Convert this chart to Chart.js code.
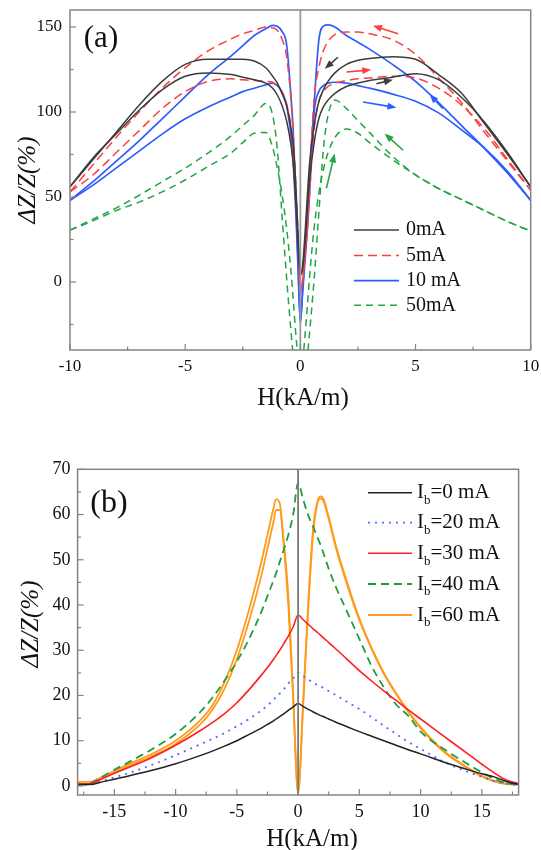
<!DOCTYPE html>
<html>
<head>
<meta charset="utf-8">
<script src="https://cdn.jsdelivr.net/npm/chart.js@4.4.1/dist/chart.umd.min.js"></script>
<style>
  html, body { margin: 0; padding: 0; background: #fff; }
  #panelA { position: absolute; left: 0; top: 0; }
  #panelB { position: absolute; left: 0; top: 420px; }
</style>
</head>
<body>
<canvas id="panelA" width="541" height="420"></canvas>
<canvas id="panelB" width="541" height="430"></canvas>
<script>
// ---- panel (a): GMI loops at several bias currents ----
const hA = [-10, -9, -8, -7, -6, -5, -4, -3, -2.5, -2, -1.5, -1.2, -1, -0.8, -0.6, -0.4, -0.3, -0.2, -0.1, 0,
    0.1, 0.2, 0.3, 0.4, 0.6, 0.8, 1, 1.2, 1.5, 2, 2.5, 3, 4, 5, 6, 7, 8, 9, 10];

// two branches per loop (sweep one way / the other way)
const z0mA1 = [56, 72, 88, 104, 118, 128, 131, 131, 131, 130, 126, 121, 117, 111, 104, 90, 80, 58, 28, 4,
    8, 22, 42, 60, 82, 96, 103, 107, 111, 115, 117, 118.5, 120.5, 122.5, 119, 108.5, 94, 76, 56];
const z0mA2 = [56, 73, 87, 101, 113, 121, 123, 122, 120.5, 119, 117, 114, 110, 104, 95, 80, 68, 48, 22, 4,
    10, 28, 50, 70, 92, 106, 113, 118, 123, 128, 130.5, 131.5, 132.5, 131, 122, 111, 93, 75, 56];
const z5mA1 = [53, 69, 85, 100, 114, 126, 136, 143, 146, 148, 150, 149.5, 148, 143, 133, 106, 84, 58, 28, -6,
    0, 14, 30, 52, 90, 106, 112, 115, 117, 118.5, 119.5, 120, 121, 120, 114, 104, 90, 72, 54];
const z5mA2 = [53, 63, 76, 89, 102, 112, 118, 119.5, 119, 118.5, 118, 117.5, 115, 112, 105, 90, 72, 50, 24, -6,
    2, 16, 32, 62, 108, 126, 136, 141.5, 145.5, 147, 147, 146, 142.5, 134, 120, 105.5, 88, 71, 54];
const z10mA1 = [48, 59, 71, 83, 96, 109, 122, 133, 139, 145, 149, 151, 150.5, 147.5, 140, 108, 86, 50, 12, -24,
    -6, 12, 30, 52, 100, 112, 115.5, 117, 117.5, 117, 115.5, 114, 110.5, 106.3, 99.5, 89.5, 78.8, 65, 48];
const z10mA2 = [48, 57, 67, 77, 87, 96, 103, 109, 112, 114, 116, 117, 115.5, 112, 104, 85, 68, 42, 8, -24,
    -4, 16, 36, 60, 105, 142, 150.5, 151.2, 150, 145, 141, 137, 128, 118, 105.5, 92, 78.5, 64, 48];
const z50mA1 = [30.5, 37, 43.5, 51, 59, 67, 76, 86, 92, 98, 105, 98, 78, 40, 3, -30, -45, -58, -65, -70,
    -48, -32, -15, 3, 32, 52, 66, 76, 85, 90, 87.5, 82, 72, 63, 55, 48.5, 42, 35.5, 30];
const z50mA2 = [30.5, 36, 42, 47, 53, 60, 68, 76, 82, 87.5, 88, 79, 67, 52, 32, 5, -12, -30, -45, -60,
    -65, -58, -45, -30, 2, 40, 78, 98, 107, 102, 95, 88, 74, 63, 55, 48.5, 42, 35.5, 30];

const labelsA = ["0mA", "5mA", "10 mA", "50mA"];
const loopsA = [[z0mA1, z0mA2], [z5mA1, z5mA2], [z10mA1, z10mA2], [z50mA1, z50mA2]];

// sweep-direction arrows, [H from, dZ from, H to, dZ to, series]
const arrowsA = [
    [4.24, 146, 3.15, 150.8, 1],
    [1.63, 132.2, 1.06, 125.4, 0],
    [2.0, 123.5, 3.08, 124.8, 1],
    [3.3, 116.6, 4.02, 119, 0],
    [2.72, 105.9, 4.17, 102.6, 2],
    [6.19, 102, 5.61, 110.4, 2],
    [4.46, 77.5, 3.66, 87.3, 3],
    [1.13, 55.1, 1.49, 75.6, 3],
];

// ---- panel (b): bias field Ib ----
const hB = [-18, -17, -16, -15, -14, -12, -10, -8, -7, -6, -5, -4, -3, -2.5, -2, -1.8, -1.5, -1.2, -0.8, -0.4, 0,
    0.4, 0.8, 1.2, 1.5, 1.8, 2, 2.5, 3, 4, 5, 6, 7, 8, 9, 10, 12, 14, 15, 16, 17, 18];

const ib0 = [0.3, 0.3, 0.9, 1.5, 2.1, 3.4, 4.9, 6.7, 7.7, 8.8, 10, 11.4, 12.8, 13.6, 14.4, 14.8, 15.3, 15.9, 16.7, 17.5, 18.2,
    17.6, 17, 16.4, 16, 15.6, 15.4, 14.8, 14.2, 13.1, 12, 11, 10, 9, 8, 7.1, 5.2, 3.5, 2.7, 2, 1, 0.3];
const ib20 = [0.2, 0.3, 1.1, 1.9, 2.7, 4.6, 6.8, 9.2, 10.4, 11.7, 13.2, 14.8, 16.7, 17.8, 19.1, 19.6, 20.4, 21.3, 22.6, 23.8, 25,
    24.3, 23.6, 22.9, 22.4, 22, 21.8, 21, 20.2, 18.6, 17, 15.2, 13.3, 11.5, 9.7, 8.2, 5.2, 3, 2, 1.1, 0.5, 0.2];
const ib30 = [0.4, 0.5, 1.6, 2.8, 3.9, 6.2, 9.0, 12.2, 14, 16, 18.4, 21.3, 24.5, 26.2, 28, 28.8, 30, 31.3, 33.1, 35.2, 37.8,
    36.8, 35.8, 34.8, 34.1, 33.4, 32.9, 31.7, 30.5, 28, 25.5, 23.2, 21, 18.9, 16.8, 14.8, 10.8, 6.8, 4.8, 2.9, 1.3, 0.5];
const ib40 = [0.3, 0.6, 2.0, 3.6, 5.0, 8.0, 11.5, 16.3, 19.5, 23.3, 27.5, 32.5, 38.5, 42, 45.5, 47, 49.5, 52, 55.5, 60, 67,
    63.5, 60, 57.5, 55.5, 53.5, 52, 48, 44.5, 38.5, 32.5, 26.5, 21.8, 18, 15.5, 12, 8, 4.6, 3, 1.6, 0.6, 0.3];
const ib60a = [0.9, 0.9, 2.0, 3.3, 4.6, 7.0, 10.0, 14.5, 17.8, 23, 30, 39, 49.5, 55.5, 61.5, 63.4, 62.5, 55, 42, 20, -1.5,
    18, 39, 56, 62, 64, 63.8, 59.5, 54, 45, 37, 30.5, 25, 20.5, 16.5, 13, 7.5, 3.8, 2.3, 1.1, 0.5, 0.4];
const ib60b = [0.5, 0.4, 1.6, 2.9, 4.2, 6.5, 9.3, 13.6, 16.8, 21.5, 28, 36.5, 46.5, 52.5, 58.5, 61, 61, 54, 40, 19, -1.5,
    17, 38, 55, 61.5, 63.5, 63.3, 59, 53.5, 44.5, 36.7, 30.3, 24.8, 20.3, 16.3, 12.8, 7.3, 3.6, 2.1, 1.0, 0.4, 0.3];

const currentsB = [0, 20, 30, 40, 60];
const curvesB = [[ib0], [ib20], [ib30], [ib40], [ib60a, ib60b]];

const FONT = "'Liberation Serif', 'Times New Roman', serif";

const styleA = [
    {color: "#3c3c3c", dash: [], width: 1.5},
    {color: "#ff3d3d", dash: [9, 5], width: 1.5},
    {color: "#2e5dff", dash: [], width: 1.7},
    {color: "#22a546", dash: [7, 5], width: 1.5},
];
const styleB = [
    {color: "#222222", dash: [], width: 1.5},
    {color: "#4a6cff", dash: [2, 5], width: 1.8},
    {color: "#ff2020", dash: [], width: 1.6},
    {color: "#1f9e3f", dash: [8, 5], width: 1.8},
    {color: "#ff9a1c", dash: [], width: 1.8},
];

function toPoints(xs, ys) {
    return xs.map((x, i) => ({x: x, y: ys[i]}));
}

function isMultiple(v, step) {
    const r = v / step;
    return Math.abs(r - Math.round(r)) < 1e-6;
}

function strokeLine(ctx, x1, y1, x2, y2) {
    ctx.beginPath();
    ctx.moveTo(x1, y1);
    ctx.lineTo(x2, y2);
    ctx.stroke();
}

// frame, inward ticks, labels, titles and legend drawn like the paper figure
const paperAxes = {
    id: "paperAxes",
    afterDatasetsDraw(chart, args, o) {
        const {ctx, chartArea: a} = chart;
        const xs = chart.scales.x, ys = chart.scales.y;
        ctx.save();

        const x0 = xs.getPixelForValue(0);
        ctx.strokeStyle = o.zeroColor;
        ctx.lineWidth = 1.8;
        strokeLine(ctx, x0, a.top, x0, a.bottom);

        ctx.strokeStyle = "#848484";
        ctx.lineWidth = 1.5;
        ctx.strokeRect(a.left, a.top, a.right - a.left, a.bottom - a.top);

        ctx.fillStyle = "#111";
        ctx.font = o.tickFont;
        ctx.lineWidth = 1.2;
        ctx.textAlign = "center";
        ctx.textBaseline = "middle";
        for (let v = Math.ceil(xs.min / o.xMinor) * o.xMinor; v <= xs.max + 1e-9; v += o.xMinor) {
            const p = xs.getPixelForValue(v);
            const major = isMultiple(v, o.xMajor);
            strokeLine(ctx, p, a.bottom, p, a.bottom - (major ? 6 : 3.5));
            if (major) ctx.fillText(String(Math.round(v)), p, a.bottom + o.xLabelGap);
        }
        ctx.textAlign = "right";
        for (let v = Math.ceil(ys.min / o.yMinor) * o.yMinor; v <= ys.max + 1e-9; v += o.yMinor) {
            const p = ys.getPixelForValue(v);
            const major = isMultiple(v, o.yMajor);
            strokeLine(ctx, a.left, p, a.left + (major ? 6 : 3.5), p);
            if (major) ctx.fillText(String(Math.round(v)), a.left - o.yLabelGap, p);
        }

        // axis titles
        ctx.textAlign = "center";
        ctx.font = o.titleFont;
        ctx.fillText("H(kA/m)", o.xTitle[0], o.xTitle[1]);
        ctx.save();
        ctx.translate(o.yTitle[0], o.yTitle[1]);
        ctx.rotate(-Math.PI / 2);
        ctx.font = "italic " + o.titleFont;
        ctx.fillText("\u0394Z/Z(%)", 0, 0);
        ctx.restore();

        ctx.font = o.panelFont;
        ctx.fillText(o.panel, o.panelPos[0], o.panelPos[1]);

        // legend
        o.legend.forEach((item, i) => {
            const y = o.legendY[i];
            ctx.strokeStyle = item.color;
            ctx.lineWidth = item.width;
            ctx.setLineDash(item.dash);
            strokeLine(ctx, o.legendX[0], y, o.legendX[1], y);
            ctx.setLineDash([]);
            ctx.textAlign = "left";
            ctx.font = o.legendFont;
            let tx = o.legendX[1] + o.legendGap;
            if (item.sub) {
                ctx.fillText("I", tx, y);
                tx += ctx.measureText("I").width;
                ctx.font = o.subFont;
                ctx.fillText(item.sub, tx, y + 8);
                tx += ctx.measureText(item.sub).width;
                ctx.font = o.legendFont;
            }
            ctx.fillText(item.text, tx, y);
        });

        // sweep arrows
        (o.arrows || []).forEach(([h1, z1, h2, z2, s]) => {
            const px1 = xs.getPixelForValue(h1), py1 = ys.getPixelForValue(z1);
            const px2 = xs.getPixelForValue(h2), py2 = ys.getPixelForValue(z2);
            const ang = Math.atan2(py2 - py1, px2 - px1);
            ctx.strokeStyle = styleA[s].color;
            ctx.fillStyle = styleA[s].color;
            ctx.lineWidth = 1.6;
            strokeLine(ctx, px1, py1, px2 - 6 * Math.cos(ang), py2 - 6 * Math.sin(ang));
            ctx.beginPath();
            ctx.moveTo(px2, py2);
            ctx.lineTo(px2 - 9 * Math.cos(ang) + 3.5 * Math.sin(ang), py2 - 9 * Math.sin(ang) - 3.5 * Math.cos(ang));
            ctx.lineTo(px2 - 9 * Math.cos(ang) - 3.5 * Math.sin(ang), py2 - 9 * Math.sin(ang) + 3.5 * Math.cos(ang));
            ctx.closePath();
            ctx.fill();
        });
        ctx.restore();
    },
};

function buildDatasets(xs, groups, styles) {
    const out = [];
    groups.forEach((branches, i) => {
        branches.forEach((ys) => {
            out.push({
                data: toPoints(xs, ys),
                showLine: true,
                borderColor: styles[i].color,
                borderWidth: styles[i].width,
                borderDash: styles[i].dash,
                pointRadius: 0,
                cubicInterpolationMode: "monotone",
                fill: false,
            });
        });
    });
    return out;
}

function baseOptions(xMin, xMax, yMin, yMax, padding, axes) {
    return {
        responsive: false,
        animation: false,
        devicePixelRatio: 1,
        layout: {padding: padding},
        plugins: {legend: {display: false}, tooltip: {enabled: false}, paperAxes: axes},
        scales: {
            x: {type: "linear", min: xMin, max: xMax, display: false},
            y: {type: "linear", min: yMin, max: yMax, display: false},
        },
    };
}

new Chart(document.getElementById("panelA"), {
    type: "scatter",
    data: {datasets: buildDatasets(hA, loopsA, styleA)},
    options: baseOptions(-10, 10, -40, 160, {left: 70, right: 10.3, top: 10, bottom: 70}, {
        zeroColor: "#9a9a9a",
        tickFont: "17px " + FONT,
        titleFont: "25px " + FONT,
        panelFont: "31px " + FONT,
        xMinor: 2.5, xMajor: 5, yMinor: 25, yMajor: 50,
        xLabelGap: 17, yLabelGap: 8,
        xTitle: [303, 398], yTitle: [28, 180],
        panel: "(a)", panelPos: [101, 39],
        legendX: [354, 399], legendGap: 7,
        legendY: [230, 255.5, 280.7, 305.3],
        legendFont: "20px " + FONT,
        legend: labelsA.map((t, i) => ({text: t, color: styleA[i].color, dash: styleA[i].dash, width: styleA[i].width})),
        arrows: arrowsA,
    }),
    plugins: [paperAxes],
});

new Chart(document.getElementById("panelB"), {
    type: "scatter",
    data: {datasets: buildDatasets(hB, curvesB, styleB)},
    options: baseOptions(-18, 18, -2, 70, {left: 77.6, right: 22.4, top: 49.3, bottom: 55}, {
        zeroColor: "#7a7a7a",
        tickFont: "18px " + FONT,
        titleFont: "25px " + FONT,
        panelFont: "32px " + FONT,
        xMinor: 2.5, xMajor: 5, yMinor: 5, yMajor: 10,
        xLabelGap: 17, yLabelGap: 7,
        xTitle: [312, 419], yTitle: [31, 204],
        panel: "(b)", panelPos: [109, 84],
        legendX: [368, 412], legendGap: 5,
        legendY: [72.7, 102.7, 133.3, 164, 195],
        legendFont: "21px " + FONT,
        subFont: "13px " + FONT,
        legend: currentsB.map((c, i) => ({sub: "b", text: "=" + c + " mA", color: styleB[i].color, dash: styleB[i].dash, width: styleB[i].width})),
    }),
    plugins: [paperAxes],
});
</script>
</body>
</html>
